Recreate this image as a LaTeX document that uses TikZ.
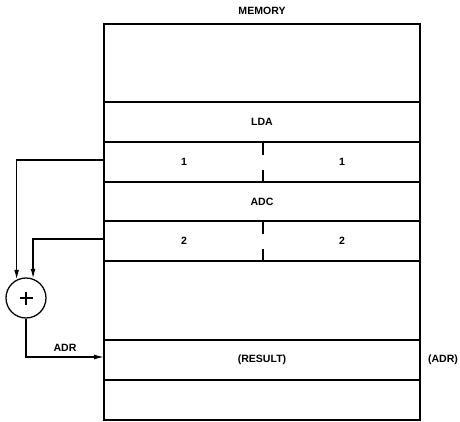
\documentclass[tikz,border=0pt]{standalone}
\usepackage{fontspec}
\setmainfont{Liberation Sans}
\usetikzlibrary{calc,arrows.meta}

\begin{document}
\begin{tikzpicture}[x=0.025cm, y=-0.025cm, font=\fontsize{7.5}{9}\selectfont\bfseries,
  cell/.style={line width=0.9pt},
  divider/.style={line width=1.3pt},
  flow/.style={line width=0.9pt, -{Latex[length=7pt,width=3.5pt]}}]

\useasboundingbox (0,0) rectangle (460,421);

% Corners of the memory block
\coordinate (MemTL) at (104,24);
\coordinate (MemBR) at (420,420);

% Draw the memory words
\foreach \y in {102,142,182,221,261,340,380} {
  \draw[cell] (104,\y) -- (420,\y);
}
\draw[line width=1.5pt] (MemTL) rectangle (MemBR);

% Split marks inside the operand words
\foreach \y in {142,221} {
  \draw[divider] (263,\y) -- ++(0,13);
  \draw[divider] (263,\y+40) -- ++(0,-12);
}

% Labels of the memory words
\node (mem) at (262,11) {MEMORY};
\node (lda) at (262,122) {LDA};
\node (opa) at (184,162) {1};
\node (opb) at (342,162) {1};
\node (adc) at (262,202) {ADC};
\node (opc) at (184,241) {2};
\node (opd) at (342,241) {2};
\node (res) at (262,360) {(RESULT)};
\node (adrout) at (443,360) {(ADR)};

% Taps on the left side of the memory
\coordinate (TapA) at (104,160);
\coordinate (TapB) at (104,239);
\coordinate (ResIn) at (104,357);

% Adder
\node[circle, draw, line width=0.9pt, minimum size=1cm, inner sep=0pt] (sum) at (26,298) {};
\draw[cell] ($(sum.center)+(-6.5,0)$) -- ($(sum.center)+(6.5,0)$);
\draw[cell] ($(sum.center)+(0,-6.5)$) -- ($(sum.center)+(0,6.5)$);

% Address paths
\draw[flow] (TapA) -| (sum.117);
\draw[flow] (TapB) -| (sum.70);
\draw[flow] (sum.south) |- node[pos=0.75, above] (adrlbl) {ADR} (ResIn);

\end{tikzpicture}
\end{document}
